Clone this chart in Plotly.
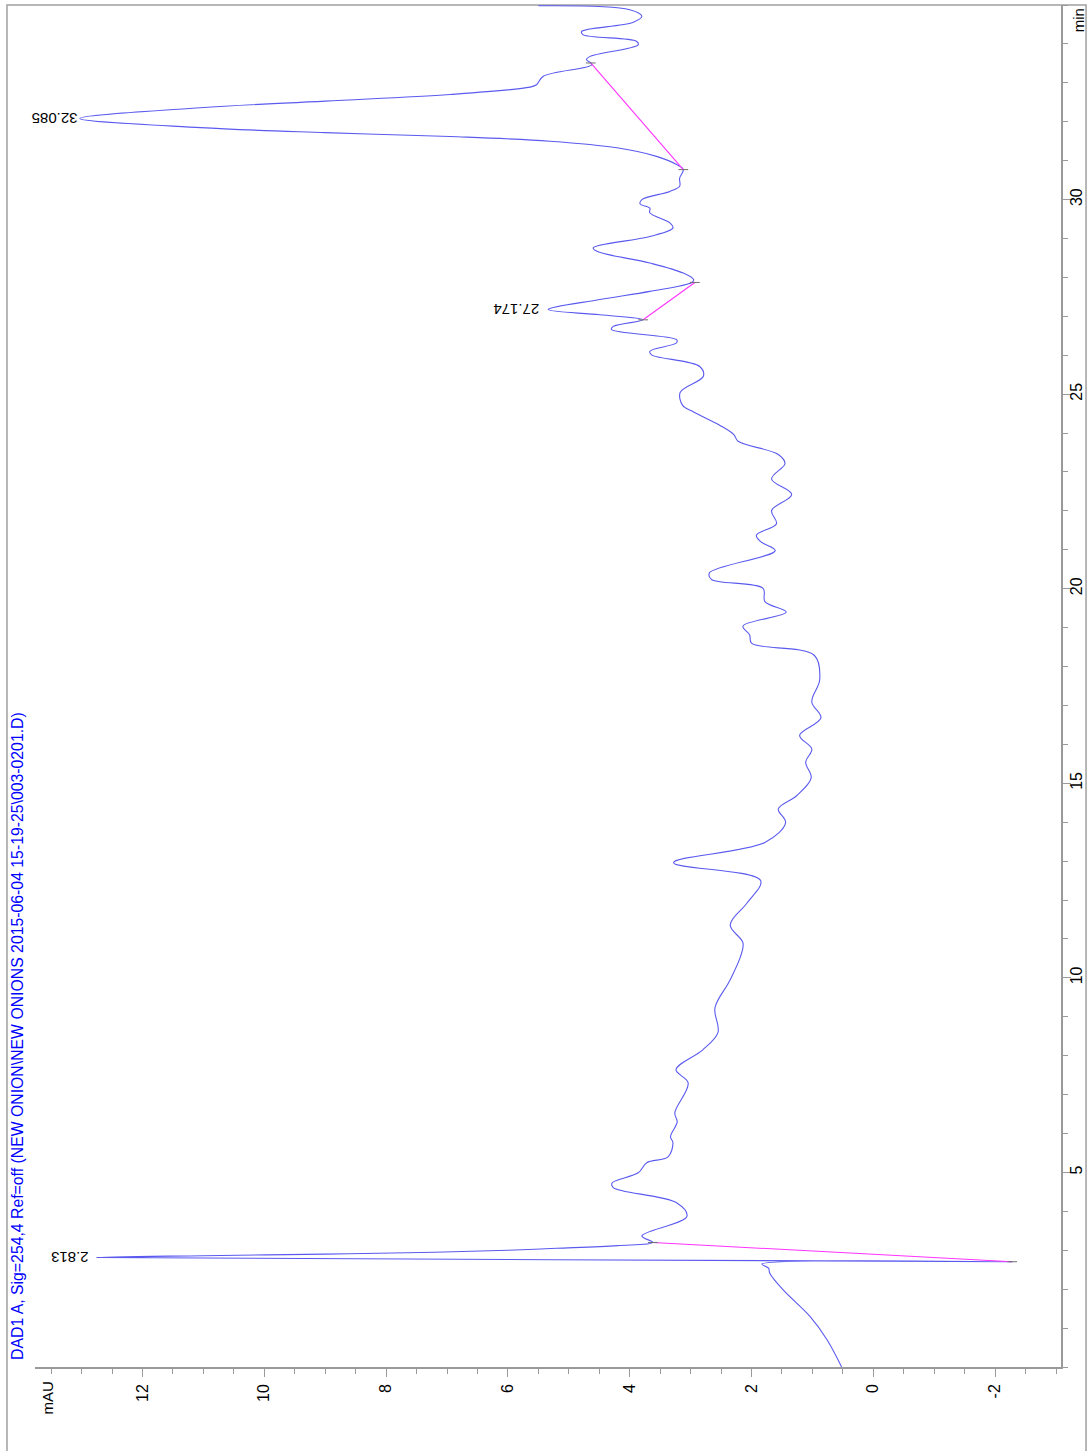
import plotly.graph_objects as go

# Chromatogram DAD1 A, 254 nm - retention time (min) vs absorbance (mAU)
time_min = [
    0.00, 0.70, 1.30, 1.98, 2.41, 2.54, 2.645, 2.705, 2.813, 2.86, 2.90, 2.95, 3.00, 3.05,
    3.12, 3.20, 3.37, 3.87, 4.22, 4.61, 4.73, 4.99, 5.25, 5.40, 5.76, 5.92, 6.30,
    6.53, 7.30, 7.64, 8.15, 8.60, 9.23, 9.92, 10.55, 10.90, 11.36, 11.93, 12.50,
    12.96, 13.48, 13.99, 14.34, 14.68, 15.14, 15.54, 15.88, 16.23, 16.68, 17.09,
    17.66, 18.29, 18.60, 18.81, 19.04, 19.40, 19.67, 20.01, 20.24, 20.41, 20.98,
    21.21, 21.38, 21.67, 22.01, 22.42, 22.82, 23.22, 23.45, 23.79, 23.96, 24.19,
    24.54, 24.71, 25.05, 25.46, 25.71, 26.01, 26.10, 26.32, 26.40, 26.66, 26.74,
    26.91, 27.04, 27.174, 27.43, 27.64, 27.87, 27.94, 28.11, 28.37, 28.67, 28.76,
    29.05, 29.27, 29.40, 29.66, 29.78, 29.89, 30.00, 30.21, 30.34, 30.55, 30.77,
    30.90, 31.11, 31.33, 31.50, 31.62, 31.72, 31.85, 32.085, 32.36, 32.53, 32.70,
    32.89, 32.95, 33.17, 33.47, 33.60, 33.68, 33.98, 34.07, 34.24, 34.32, 34.55,
    34.71, 34.88, 34.98,
]
signal_mau = [
    0.52, 0.76, 1.04, 1.48, 1.70, 1.72, 1.83, -2.28, 12.75, 11.0, 9.0, 7.2, 6.0, 5.2,
    4.2, 3.62, 3.80, 3.06, 3.23, 4.27, 4.29, 3.86, 3.72, 3.37, 3.29, 3.33, 3.22,
    3.26, 3.04, 3.24, 2.80, 2.55, 2.60, 2.36, 2.18, 2.14, 2.35, 2.07, 1.85,
    3.28, 1.78, 1.44, 1.56, 1.26, 1.02, 1.11, 1.01, 1.21, 0.86, 1.01,
    0.88, 0.97, 2.00, 2.03, 2.14, 1.43, 1.78, 1.81, 2.66, 2.69, 1.61,
    1.85, 1.92, 1.59, 1.67, 1.34, 1.67, 1.45, 1.56, 2.22, 2.29, 2.51,
    2.95, 3.13, 3.17, 2.79, 2.85, 3.64, 3.67, 3.23, 3.23, 4.30, 4.27,
    3.78, 4.49, 5.34, 4.49, 3.67, 2.98, 2.95, 3.12, 3.67, 4.54, 4.60,
    3.67, 3.29, 3.34, 3.67, 3.67, 3.83, 3.80, 3.34, 3.18, 3.18, 3.12,
    3.23, 3.56, 4.21, 5.31, 6.95, 9.0, 11.05, 13.03, 11.05, 9.0, 6.95,
    5.64, 5.53, 5.42, 4.62, 4.71, 4.65, 3.86, 3.89, 4.77, 4.79, 3.95,
    3.80, 4.00, 5.50,
]

# Integration baselines: (start time, start mAU, end time, end mAU)
baseline_t0 = [2.705, 26.91, 30.77]
baseline_y0 = [-2.28, 3.78, 3.12]
baseline_t1 = [3.20, 27.87, 33.51]
baseline_y1 = [3.62, 2.93, 4.64]

# Labelled peaks
peak_rt = [2.813, 27.174, 32.085]
peak_mau = [12.75, 5.34, 13.03]
peak_labels = ["2.813", "27.174", "32.085"]
peak_shift = [-27, -32, -25]

mau_ticks = [-2, 0, 2, 4, 6, 8, 10, 12]
time_ticks = [5, 10, 15, 20, 25, 30]

TRACE = "#5a5aef"
AXIS = "#9a9a9a"
FONT = "Liberation Sans, Arial, sans-serif"

fig = go.Figure()

# Signal trace (absorbance runs horizontally, time runs vertically)
fig.add_trace(go.Scatter(
    x=signal_mau, y=time_min, mode="lines",
    line=dict(color=TRACE, width=1.1, shape="spline", smoothing=1.0),
    hoverinfo="skip", showlegend=False,
))

# Baselines
for t0, y0, t1, y1 in zip(baseline_t0, baseline_y0, baseline_t1, baseline_y1):
    fig.add_trace(go.Scatter(
        x=[y0, y1], y=[t0, t1], mode="lines+markers",
        line=dict(color="#ff33ff", width=1.1),
        marker=dict(symbol="line-ew", size=7, line=dict(color="#707070", width=1)),
        hoverinfo="skip", showlegend=False,
    ))

# Peak retention time labels
for rt, h, lab, sh in zip(peak_rt, peak_mau, peak_labels, peak_shift):
    fig.add_annotation(
        x=h, y=rt, text=lab, showarrow=False, textangle=180,
        xshift=sh, xanchor="center", yanchor="middle",
        font=dict(family=FONT, size=15, color="#000000"),
    )

# Signal description
fig.add_annotation(
    xref="paper", yref="paper", x=-0.0166, y=0.0037,
    text="DAD1 A, Sig=254,4 Ref=off (NEW ONION\\NEW ONIONS 2015-06-04 15-19-25\\003-0201.D)",
    showarrow=False, textangle=-90, xanchor="center", yanchor="bottom",
    font=dict(family=FONT, size=15.8, color="#0000ff"),
)

# Axis units
fig.add_annotation(
    xref="paper", yref="paper", x=0.0117, y=-0.0095,
    text="mAU", showarrow=False, textangle=-90, xanchor="center", yanchor="top",
    font=dict(family=FONT, size=15, color="#000000"),
)
fig.add_annotation(
    xref="paper", yref="paper", x=1.0165, y=0.999,
    text="min", showarrow=False, textangle=-90, xanchor="center", yanchor="top",
    font=dict(family=FONT, size=15, color="#000000"),
)

# Outer frame
fig.add_shape(
    type="rect", xref="paper", yref="paper",
    x0=-0.0273, x1=1.0244, y0=-0.08, y1=1.0,
    line=dict(color="#a0a0a0", width=1.5), layer="below",
)

fig.update_layout(
    width=1091, height=1451,
    margin=dict(l=35, r=30, t=5, b=84),
    paper_bgcolor="white", plot_bgcolor="white",
    font=dict(family=FONT, size=16, color="#000000"),
    xaxis=dict(
        range=[13.765, -3.082], showgrid=False, zeroline=False, automargin=False,
        showline=True, linecolor=AXIS, linewidth=1.5,
        tickmode="array", tickvals=mau_ticks, ticktext=[str(v) for v in mau_ticks],
        ticks="outside", ticklen=8, tickcolor=AXIS, tickwidth=1,
        tickangle=-90, ticklabelstandoff=1,
        minor=dict(dtick=0.5, tick0=0, ticks="outside", ticklen=5, tickcolor=AXIS, tickwidth=1),
    ),
    yaxis=dict(
        range=[0, 35.0], side="right", showgrid=False, zeroline=False, automargin=False,
        showline=True, linecolor=AXIS, linewidth=1.5,
        tickmode="array", tickvals=time_ticks, ticktext=[str(v) for v in time_ticks],
        ticks="outside", ticklen=8, tickcolor=AXIS, tickwidth=1,
        tickangle=-90, ticklabelstandoff=-8,
        minor=dict(dtick=1, tick0=0, ticks="outside", ticklen=5, tickcolor=AXIS, tickwidth=1),
    ),
)

fig.write_html("out.html")
